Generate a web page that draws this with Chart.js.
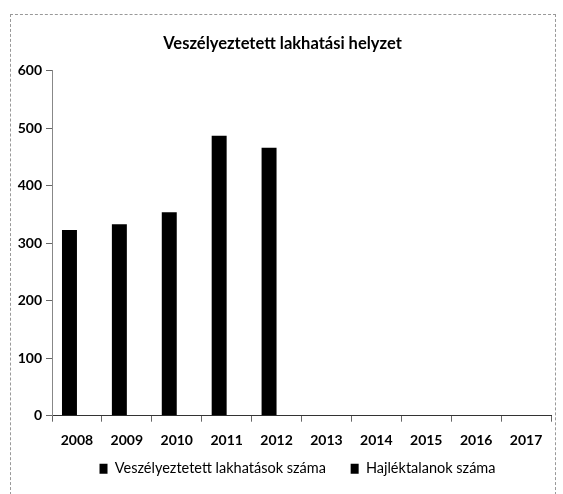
<!DOCTYPE html>
<html>
<head>
<meta charset="utf-8">
<script src="https://cdn.jsdelivr.net/npm/chart.js@4"></script>
<style>
  html, body { margin: 0; padding: 0; background: #fff; }
  #frame { position: absolute; left: 10px; top: 14px; width: 546px; height: 486px;
           border: 1px dashed #999; box-sizing: border-box; }
  #wrap { position: absolute; left: 0; top: 0; width: 563px; height: 494px; }
</style>
</head>
<body>
<div id="frame"></div>
<div id="wrap"><canvas id="myChart" width="563" height="494"></canvas></div>
<script>
const years = ['2008','2009','2010','2011','2012','2013','2014','2015','2016','2017'];
const veszelyeztetett = [323, 333, 354, 487, 466, 0, 0, 0, 0, 0];
const hajlektalanok = [0, 0, 0, 0, 0, 0, 0, 0, 0, 0];
const yTicks = [0, 100, 200, 300, 400, 500, 600];

const font = "Lato, 'Open Sans', sans-serif";

const dataX = {
  labels: years,
  datasets: [{
    label: 'Veszélyeztetett lakhatások száma',
    backgroundColor: '#000',
    data: veszelyeztetett,
  }, {
    label: 'Hajléktalanok száma',
    backgroundColor: '#000',
    data: hajlektalanok,
  }]
};

// legend in the original sits a bit right of the canvas centre
const legendShift = {
  id: 'legendShift',
  afterLayout(chart) {
    chart.legend.left += 15;
    chart.legend.right += 15;
  }
};

const config = {
  type: 'bar',
  data: dataX,
  plugins: [legendShift],
  options: {
    responsive: false,
    animation: false,
    categoryPercentage: 0.6,
    barPercentage: 1,
    layout: { padding: { left: 14, right: 12, top: 26, bottom: 8 } },
    plugins: {
      title: {
        display: true,
        text: 'Veszélyeztetett lakhatási helyzet',
        color: '#000',
        font: { family: font, size: 16.5, weight: 'bold' },
        padding: { top: 8, bottom: 17 }
      },
      legend: {
        position: 'bottom',
        labels: {
          color: '#000',
          boxWidth: 8,
          boxHeight: 10,
          padding: 3,
          font: { family: font, size: 14.5 },
          // wider gap between the two items without the tall vertical padding
          generateLabels: (chart) => {
            const items = Chart.defaults.plugins.legend.labels.generateLabels(chart);
            items[0].text += '\u2003\u2003';
            return items;
          }
        }
      },
      tooltip: { enabled: false }
    },
    scales: {
      x: {
        grid: { drawOnChartArea: false, tickLength: 6, color: '#666' },
        border: { color: '#333', width: 1 },
        ticks: { color: '#000', font: { family: font, size: 14, weight: 'bold' }, padding: 10 }
      },
      y: {
        min: 0,
        max: 600,
        afterBuildTicks: (axis) => { axis.ticks = yTicks.map(v => ({ value: v })); },
        afterFit: (axis) => { axis.width = 38; },
        grid: { drawOnChartArea: false, tickLength: 6, color: '#666' },
        border: { color: '#888', width: 1 },
        ticks: { color: '#000', font: { family: font, size: 14, weight: 'bold' }, padding: 4 }
      }
    }
  }
};

const myChart = new Chart(document.getElementById('myChart'), config);
</script>
</body>
</html>
